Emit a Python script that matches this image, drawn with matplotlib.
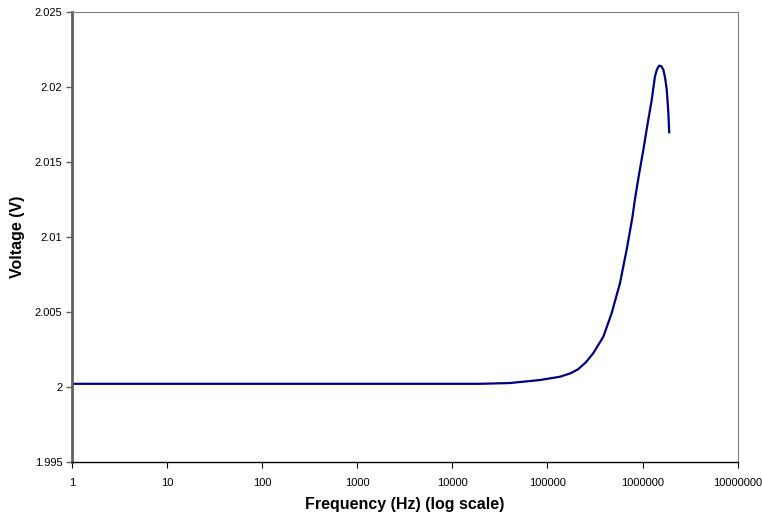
import matplotlib.pyplot as plt
import numpy as np
from matplotlib.ticker import FixedLocator, FuncFormatter, NullLocator

# values
freq_hz = [1, 10, 100, 1000, 10000, 19500, 40000, 83000, 135000, 175000,
           210000, 255000, 303000, 387000, 473000, 579000, 680000, 780000,
           830000, 920000, 1020000, 1120000, 1250000, 1350000, 1420000,
           1500000, 1580000, 1660000, 1730000, 1800000, 1870000, 1910000]
voltage_v = [2.0002, 2.0002, 2.0002, 2.0002, 2.0002, 2.0002, 2.00025, 2.00045,
             2.00067, 2.0009, 2.00117, 2.00165, 2.00224, 2.00334, 2.0049,
             2.00691, 2.00913, 2.01125, 2.01247, 2.0142, 2.01581, 2.0174,
             2.01915, 2.0207, 2.0212, 2.02144, 2.0214, 2.02115, 2.0206,
             2.01981, 2.0183, 2.01692]
x_ticks = [1, 10, 100, 1000, 10000, 100000, 1000000, 10000000]
y_ticks = [1.995, 2.0, 2.005, 2.01, 2.015, 2.02, 2.025]

plt.rcParams['font.family'] = ['Liberation Sans', 'DejaVu Sans']

fig = plt.figure(figsize=(7.62, 5.12), dpi=100)
ax = fig.add_axes([72 / 762, 1 - 461.7 / 512, 665.6 / 762, 449.4 / 512])

ax.plot(freq_hz, voltage_v, color='#000080', linewidth=1.6,
        solid_joinstyle='round', solid_capstyle='butt')

ax.set_xscale('log')
ax.set_xlim(1, 1e7)
ax.set_ylim(1.995, 2.025)

ax.xaxis.set_major_locator(FixedLocator(x_ticks))
ax.xaxis.set_minor_locator(NullLocator())
ax.xaxis.set_major_formatter(FuncFormatter(lambda v, p: f"{int(round(v))}"))
ax.yaxis.set_major_locator(FixedLocator(y_ticks))
ax.yaxis.set_major_formatter(FuncFormatter(lambda v, p: f"{v:g}"))

# excel-ish frame
for side in ['top', 'right']:
    ax.spines[side].set_color('#808080')
    ax.spines[side].set_linewidth(0.8)
ax.spines['left'].set_color('#606060')
ax.spines['left'].set_linewidth(2.0)
ax.spines['bottom'].set_color('black')
ax.spines['bottom'].set_linewidth(1.0)

ax.tick_params(axis='both', direction='out', length=4, labelsize=8, colors='black')
ax.tick_params(axis='y', color='#606060', width=1.0, pad=3)
ax.tick_params(axis='x', width=0.8, pad=8)

ax.set_xlabel('Frequency (Hz) (log scale)', fontsize=11.5, fontweight='bold', labelpad=6)
ax.set_ylabel('Voltage (V)', fontsize=11.5, fontweight='bold', labelpad=7)

fig.savefig('out.png', dpi=100)
